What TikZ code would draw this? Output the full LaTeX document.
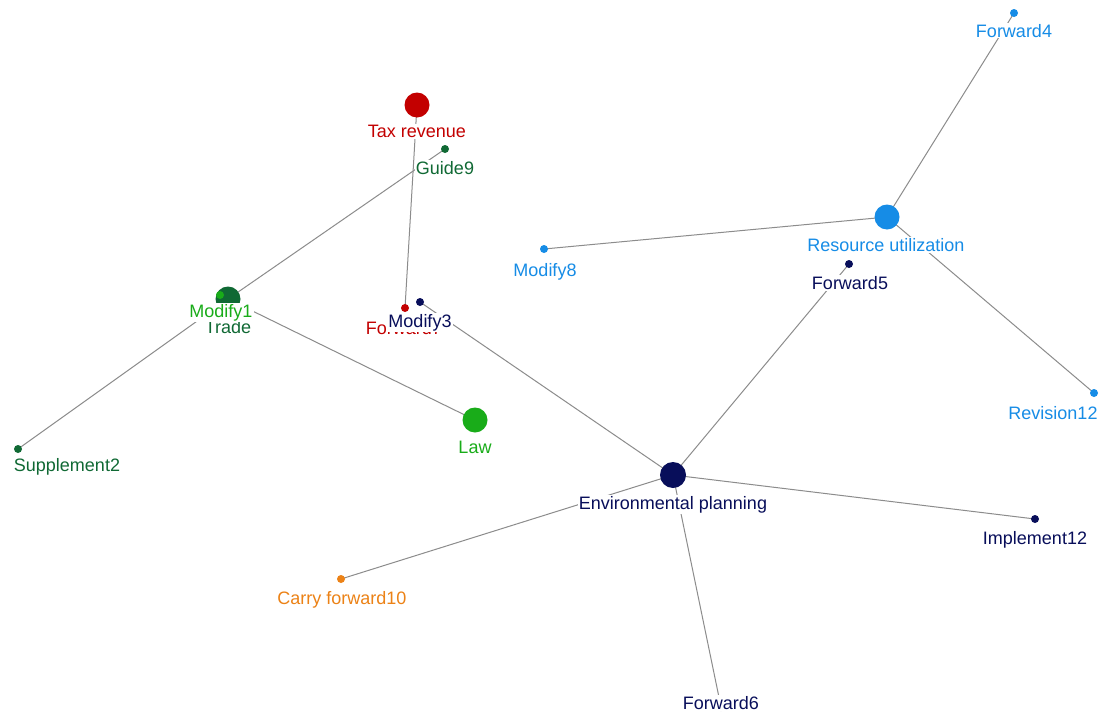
\documentclass[tikz,border=0pt]{standalone}
\usepackage{fontspec}
\setmainfont{Liberation Sans}
\usetikzlibrary{backgrounds}
\definecolor{cred}{RGB}{195,0,0}
\definecolor{dgreen}{RGB}{16,105,52}
\definecolor{lgreen}{RGB}{25,172,25}
\definecolor{navy}{RGB}{8,14,90}
\definecolor{cblue}{RGB}{22,140,230}
\definecolor{corange}{RGB}{236,130,22}
\definecolor{edgegray}{RGB}{140,140,140}
\begin{document}
\begin{tikzpicture}[x=1pt,y=-1pt,
  edge/.style={draw=edgegray, line width=1pt},
  big/.style={circle, fill=#1, minimum size=25pt, inner sep=0pt},
  small/.style={circle, fill=#1, minimum size=8pt, inner sep=0pt},
  lab/.style={text=#1, fill=white, inner sep=1pt, anchor=base, font=\fontsize{18}{20}\selectfont}]
\useasboundingbox (0,0) rectangle (1101,715);

% circles
\node[big=cred] (tax) at (417,105) {};
\node[small=dgreen] (guide) at (445,149) {};
\node[big=dgreen] (trade) at (228,299) {};
\node[small=lgreen] (mod1) at (220,295) {};
\node[small=dgreen] (sup) at (18,449) {};
\node[big=lgreen] (law) at (475,420) {};
\node[small=cred] (fw7) at (405,308) {};
\node[small=navy] (mod3) at (420,302) {};
\node[big=navy, minimum size=26pt] (env) at (673,475) {};
\node[small=navy] (fw5) at (849,264) {};
\node[small=navy] (imp) at (1035,519) {};
\node[small=navy] (fw6) at (721,707) {};
\node[small=corange] (carry) at (341,579) {};
\node[big=cblue] (res) at (887,217) {};
\node[small=cblue] (fw4) at (1014,13) {};
\node[small=cblue] (mod8) at (544,249) {};
\node[small=cblue] (rev) at (1094,393) {};

% edges
\begin{scope}[on background layer]
\fill[white] (0,0) rectangle (1101,715);
\draw[edge] (tax.center) -- (fw7.center);
\draw[edge] (guide.center) -- (trade.center);
\draw[edge] (trade.center) -- (sup.center);
\draw[edge] (trade.center) -- (law.center);
\draw[edge] (mod3.center) -- (env.center);
\draw[edge] (env.center) -- (fw5.center);
\draw[edge] (env.center) -- (imp.center);
\draw[edge] (env.center) -- (fw6.center);
\draw[edge] (env.center) -- (carry.center);
\draw[edge] (res.center) -- (fw4.center);
\draw[edge] (res.center) -- (mod8.center);
\draw[edge] (res.center) -- (rev.center);
\end{scope}

% labels
\node[lab=cred] (taxl) at (417,137.5) {Tax revenue};
\node[lab=dgreen] (guidel) at (445,174.5) {Guide9};
\node[lab=dgreen] (tradel) at (228,333) {Trade};
\node[lab=lgreen] (mod1l) at (221,317.5) {Modify1};
\node[lab=dgreen] (supl) at (67,471.5) {Supplement2};
\node[lab=lgreen] (lawl) at (475,453) {Law};
\node[lab=cred] (fw7l) at (404,334.5) {Forward7};
\node[lab=navy] (mod3l) at (420,327.5) {Modify3};
\node[lab=navy] (envl) at (673,509.5) {Environmental planning};
\node[lab=navy] (fw5l) at (850,289.5) {Forward5};
\node[lab=navy] (impl) at (1035,544.5) {Implement12};
\node[lab=navy] (fw6l) at (721,709.5) {Forward6};
\node[lab=corange] (carryl) at (342,604.5) {Carry forward10};
\node[lab=cblue] (resl) at (886,251.5) {Resource utilization};
\node[lab=cblue] (fw4l) at (1014,37) {Forward4};
\node[lab=cblue] (mod8l) at (545,276) {Modify8};
\node[lab=cblue] (revl) at (1053,419.5) {Revision12};
\end{tikzpicture}
\end{document}
